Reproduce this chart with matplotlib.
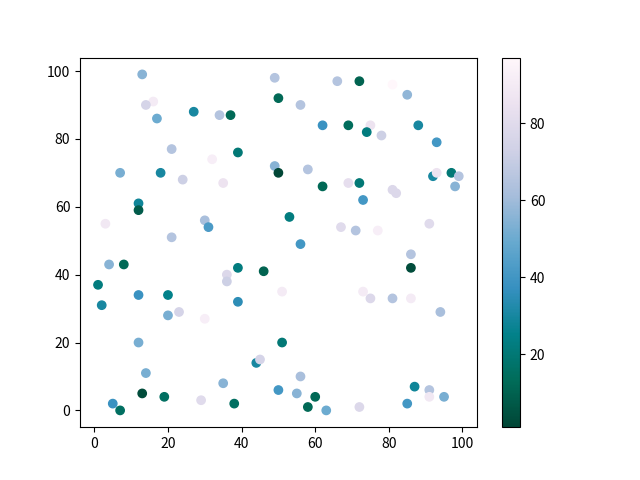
import numpy as np
import matplotlib
matplotlib.use("Agg")
import matplotlib.pyplot as plt

plt.rcParams['font.family'] = ['Noto Sans CJK SC', 'DejaVu Sans']

x = [13, 49, 66, 72, 81, 85, 50, 16, 14, 56,
     27, 34, 37, 17, 62, 69, 75, 74, 78, 88,
     93, 21, 39, 32, 7, 18, 24, 35, 49, 50,
     12, 12, 3, 30, 31, 21, 58, 62, 69, 72,
     73, 81, 82, 92, 93, 97, 99, 98, 53, 67,
     71, 77, 91, 56, 4, 8, 1, 2, 12, 20,
     20, 23, 30, 36, 36, 39, 46, 39, 51, 12,
     14, 13, 19, 5, 7, 29, 35, 38, 44, 45,
     51, 50, 86, 86, 73, 75, 81, 86, 94, 56,
     55, 60, 58, 63, 72, 85, 87, 91, 91, 95]
y = [99, 98, 97, 97, 96, 93, 92, 91, 90, 90,
     88, 87, 87, 86, 84, 84, 84, 82, 81, 84,
     79, 77, 76, 74, 70, 70, 68, 67, 72, 70,
     61, 59, 55, 56, 54, 51, 71, 66, 67, 67,
     62, 65, 64, 69, 70, 70, 69, 66, 57, 54,
     53, 53, 55, 49, 43, 43, 37, 31, 34, 34,
     28, 29, 27, 40, 38, 42, 41, 32, 35, 20,
     11, 5, 4, 2, 0, 3, 8, 2, 14, 15,
     20, 6, 46, 42, 35, 33, 33, 33, 29, 10,
     5, 4, 1, 0, 1, 2, 7, 6, 4, 4]
c = [55, 65, 65, 10, 97, 57, 12, 90, 75, 65,
     30, 65, 12, 50, 38, 14, 85, 22, 72, 30,
     40, 65, 20, 92, 52, 30, 72, 85, 55, 1,
     28, 8, 88, 62, 42, 65, 65, 12, 82, 20,
     40, 78, 78, 30, 85, 20, 65, 55, 22, 80,
     65, 92, 80, 40, 55, 12, 22, 30, 38, 25,
     52, 75, 92, 78, 72, 22, 10, 35, 90, 52,
     52, 3, 15, 38, 15, 80, 55, 15, 30, 75,
     20, 40, 65, 3, 90, 78, 65, 90, 62, 62,
     55, 12, 12, 50, 78, 40, 28, 65, 88, 52]

fig, ax = plt.subplots(figsize=(6.4, 4.8), dpi=100)
sc = ax.scatter(x, y, c=c, cmap='PuBuGn_r')
fig.colorbar(sc)
plt.savefig('out.png')
